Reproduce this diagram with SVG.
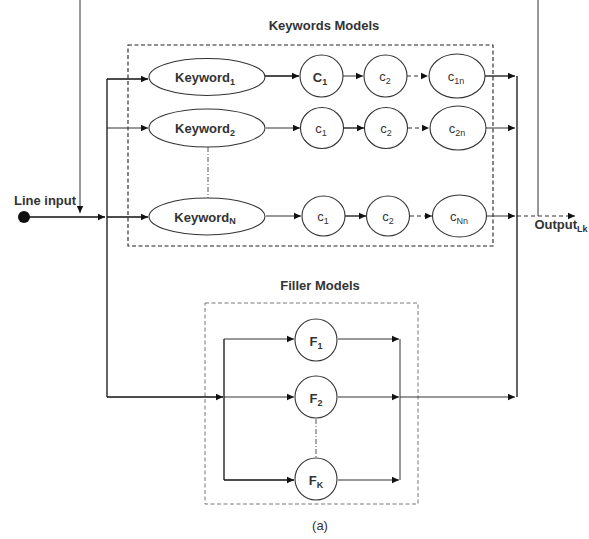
<svg xmlns="http://www.w3.org/2000/svg" width="589" height="539" viewBox="0 0 589 539">
  <defs>
    <marker id="arr" markerWidth="8" markerHeight="8" refX="7" refY="4" orient="auto" markerUnits="userSpaceOnUse">
      <path d="M0,0.8 L7,4 L0,7.2 Z" fill="#111"/>
    </marker>
    <style>
      .ln { stroke: #111; stroke-width: 1.3; fill: none; }
      .thin { stroke: #333; stroke-width: 1; fill: none; }
      .dash { stroke: #333; stroke-width: 1; fill: none; stroke-dasharray: 4 3; }
      .dashdot { stroke: #444; stroke-width: 0.9; fill: none; stroke-dasharray: 5 2 1 2; }
      .box { stroke: #222; stroke-width: 1.1; fill: none; stroke-dasharray: 4 2.5; }
      .box2 { stroke: #777; stroke-width: 1; fill: none; stroke-dasharray: 4 2.5; }
      .node { stroke: #333; stroke-width: 1.1; fill: #fff; }
      .lbl { font-family: "Liberation Sans", Arial, sans-serif; font-size: 13px; font-weight: bold; fill: #333; text-anchor: middle; }
      .sm { font-family: "Liberation Sans", Arial, sans-serif; font-size: 13px; fill: #333; text-anchor: middle; }
      .sub { font-size: 9px; }
      .title { font-family: "Liberation Sans", Arial, sans-serif; font-size: 13px; font-weight: bold; fill: #333; text-anchor: middle; }
    </style>
  </defs>

  <!-- group frames -->
  <rect class="box" x="128" y="45" width="365" height="201"/>
  <text class="title" x="324" y="30">Keywords Models</text>
  <rect class="box2" x="205" y="303" width="213" height="201"/>
  <text class="title" x="320" y="290">Filler Models</text>

  <g id="connectors">
    <!-- line input -->
    <path class="ln" d="M24,217 H105" marker-end="url(#arr)"/>
    <path class="thin" d="M80,0 V213" marker-end="url(#arr)"/>
    <!-- input bus -->
    <path class="ln" d="M107,79 V397"/>
    <path class="ln" d="M107,79 H148" marker-end="url(#arr)"/>
    <path class="thin" d="M107,128 H148" marker-end="url(#arr)"/>
    <path class="ln" d="M107,217 H148" marker-end="url(#arr)"/>
    <path class="ln" d="M107,397 H223" marker-end="url(#arr)"/>
    <!-- keyword rows -->
    <path class="ln" d="M265,76 H299" marker-end="url(#arr)"/>
    <path class="thin" d="M343,76 H363" marker-end="url(#arr)"/>
    <path class="dash" d="M407,76 H428" marker-end="url(#arr)"/>
    <path class="ln" d="M485,76 H515" marker-end="url(#arr)"/>

    <path class="thin" d="M266,128 H300" marker-end="url(#arr)"/>
    <path class="ln" d="M344,128 H364" marker-end="url(#arr)"/>
    <path class="dash" d="M408,128 H429" marker-end="url(#arr)"/>
    <path class="thin" d="M486,128 H515" marker-end="url(#arr)"/>

    <path class="thin" d="M266,216 H301" marker-end="url(#arr)"/>
    <path class="ln" d="M345,216 H366" marker-end="url(#arr)"/>
    <path class="dash" d="M410,216 H432" marker-end="url(#arr)"/>
    <path class="thin" d="M486,216 H515" marker-end="url(#arr)"/>
    <path class="dash" d="M517,216 H575" marker-end="url(#arr)"/>
    <path class="thin" d="M538,0 V216"/>
    <!-- output bus -->
    <path class="ln" d="M517,76 V397"/>
    <!-- keyword dots -->
    <path class="dashdot" d="M208,147 V198"/>
    <!-- filler models -->
    <path class="ln" d="M224,339 V480"/>
    <path class="thin" d="M224,339 H294" marker-end="url(#arr)"/>
    <path class="thin" d="M224,397 H294" marker-end="url(#arr)"/>
    <path class="ln" d="M224,480 H294" marker-end="url(#arr)"/>
    <path class="thin" d="M338,339 H399" marker-end="url(#arr)"/>
    <path class="thin" d="M338,397 H399" marker-end="url(#arr)"/>
    <path class="thin" d="M338,480 H399" marker-end="url(#arr)"/>
    <path class="thin" d="M400,339 V480"/>
    <path class="thin" d="M400,397 H515" marker-end="url(#arr)"/>
    <path class="dashdot" d="M316,419 V458"/>
  </g>

  <circle id="line-input" cx="24" cy="217" r="6" fill="#111"/>
  <text class="lbl" x="45" y="205" font-size="13.5">Line input</text>

  <g id="keyword1"><ellipse class="node" cx="207" cy="77" rx="58" ry="18.5"/><text class="lbl" x="205" y="82">Keyword<tspan class="sub" dy="2.5">1</tspan></text></g>
  <g id="keyword2"><ellipse class="node" cx="207" cy="128" rx="58" ry="19"/><text class="lbl" x="205" y="133">Keyword<tspan class="sub" dy="2.5">2</tspan></text></g>
  <g id="keywordN"><ellipse class="node" cx="207" cy="216.5" rx="58" ry="18.5"/><text class="lbl" x="205" y="221.5">Keyword<tspan class="sub" dy="2.5">N</tspan></text></g>

  <g id="c1-1"><ellipse class="node" cx="321.5" cy="76" rx="21.5" ry="21"/><text class="lbl" x="320" y="82" font-size="15">C<tspan class="sub" font-size="11" dy="3">1</tspan></text></g>
  <g id="c1-2"><ellipse class="node" cx="385.5" cy="76" rx="21.5" ry="21"/><text class="sm" x="385" y="81">c<tspan class="sub" dy="2.5">2</tspan></text></g>
  <g id="c1-n"><ellipse class="node" cx="457" cy="76" rx="28" ry="22"/><text class="sm" x="456" y="81">c<tspan class="sub" font-size="10" dy="2.5">1n</tspan></text></g>

  <g id="c2-1"><ellipse class="node" cx="322" cy="128" rx="21.5" ry="20.5"/><text class="sm" x="321" y="133">c<tspan class="sub" dy="2.5">1</tspan></text></g>
  <g id="c2-2"><ellipse class="node" cx="386" cy="128" rx="21.5" ry="20.5"/><text class="sm" x="386" y="133">c<tspan class="sub" dy="2.5">2</tspan></text></g>
  <g id="c2-n"><ellipse class="node" cx="458" cy="128" rx="28" ry="22"/><text class="sm" x="457" y="133">c<tspan class="sub" font-size="10" dy="2.5">2n</tspan></text></g>

  <g id="cN-1"><ellipse class="node" cx="323.5" cy="216" rx="21.5" ry="20"/><text class="sm" x="323" y="221">c<tspan class="sub" dy="2.5">1</tspan></text></g>
  <g id="cN-2"><ellipse class="node" cx="388" cy="216" rx="21.5" ry="20"/><text class="sm" x="388" y="221">c<tspan class="sub" dy="2.5">2</tspan></text></g>
  <g id="cN-n"><ellipse class="node" cx="459.5" cy="216" rx="27" ry="21"/><text class="sm" x="459" y="221">c<tspan class="sub" font-size="10" dy="2.5">Nn</tspan></text></g>

  <g id="F1"><circle class="node" cx="316" cy="340" r="21"/><text class="lbl" x="316" y="346" font-size="15">F<tspan class="sub" font-size="11" dy="3">1</tspan></text></g>
  <g id="F2"><circle class="node" cx="316" cy="397" r="21"/><text class="lbl" x="316" y="403" font-size="15">F<tspan class="sub" font-size="11" dy="3">2</tspan></text></g>
  <g id="FK"><circle class="node" cx="316" cy="479" r="21"/><text class="lbl" x="316" y="485" font-size="15">F<tspan class="sub" font-size="11" dy="3">K</tspan></text></g>

  <text class="lbl" x="561" y="229" font-size="13.5">Output<tspan class="sub" font-size="10" dy="2.5">Lk</tspan></text>
  <text class="sm" x="320" y="530" font-size="11">(a)</text>
</svg>
